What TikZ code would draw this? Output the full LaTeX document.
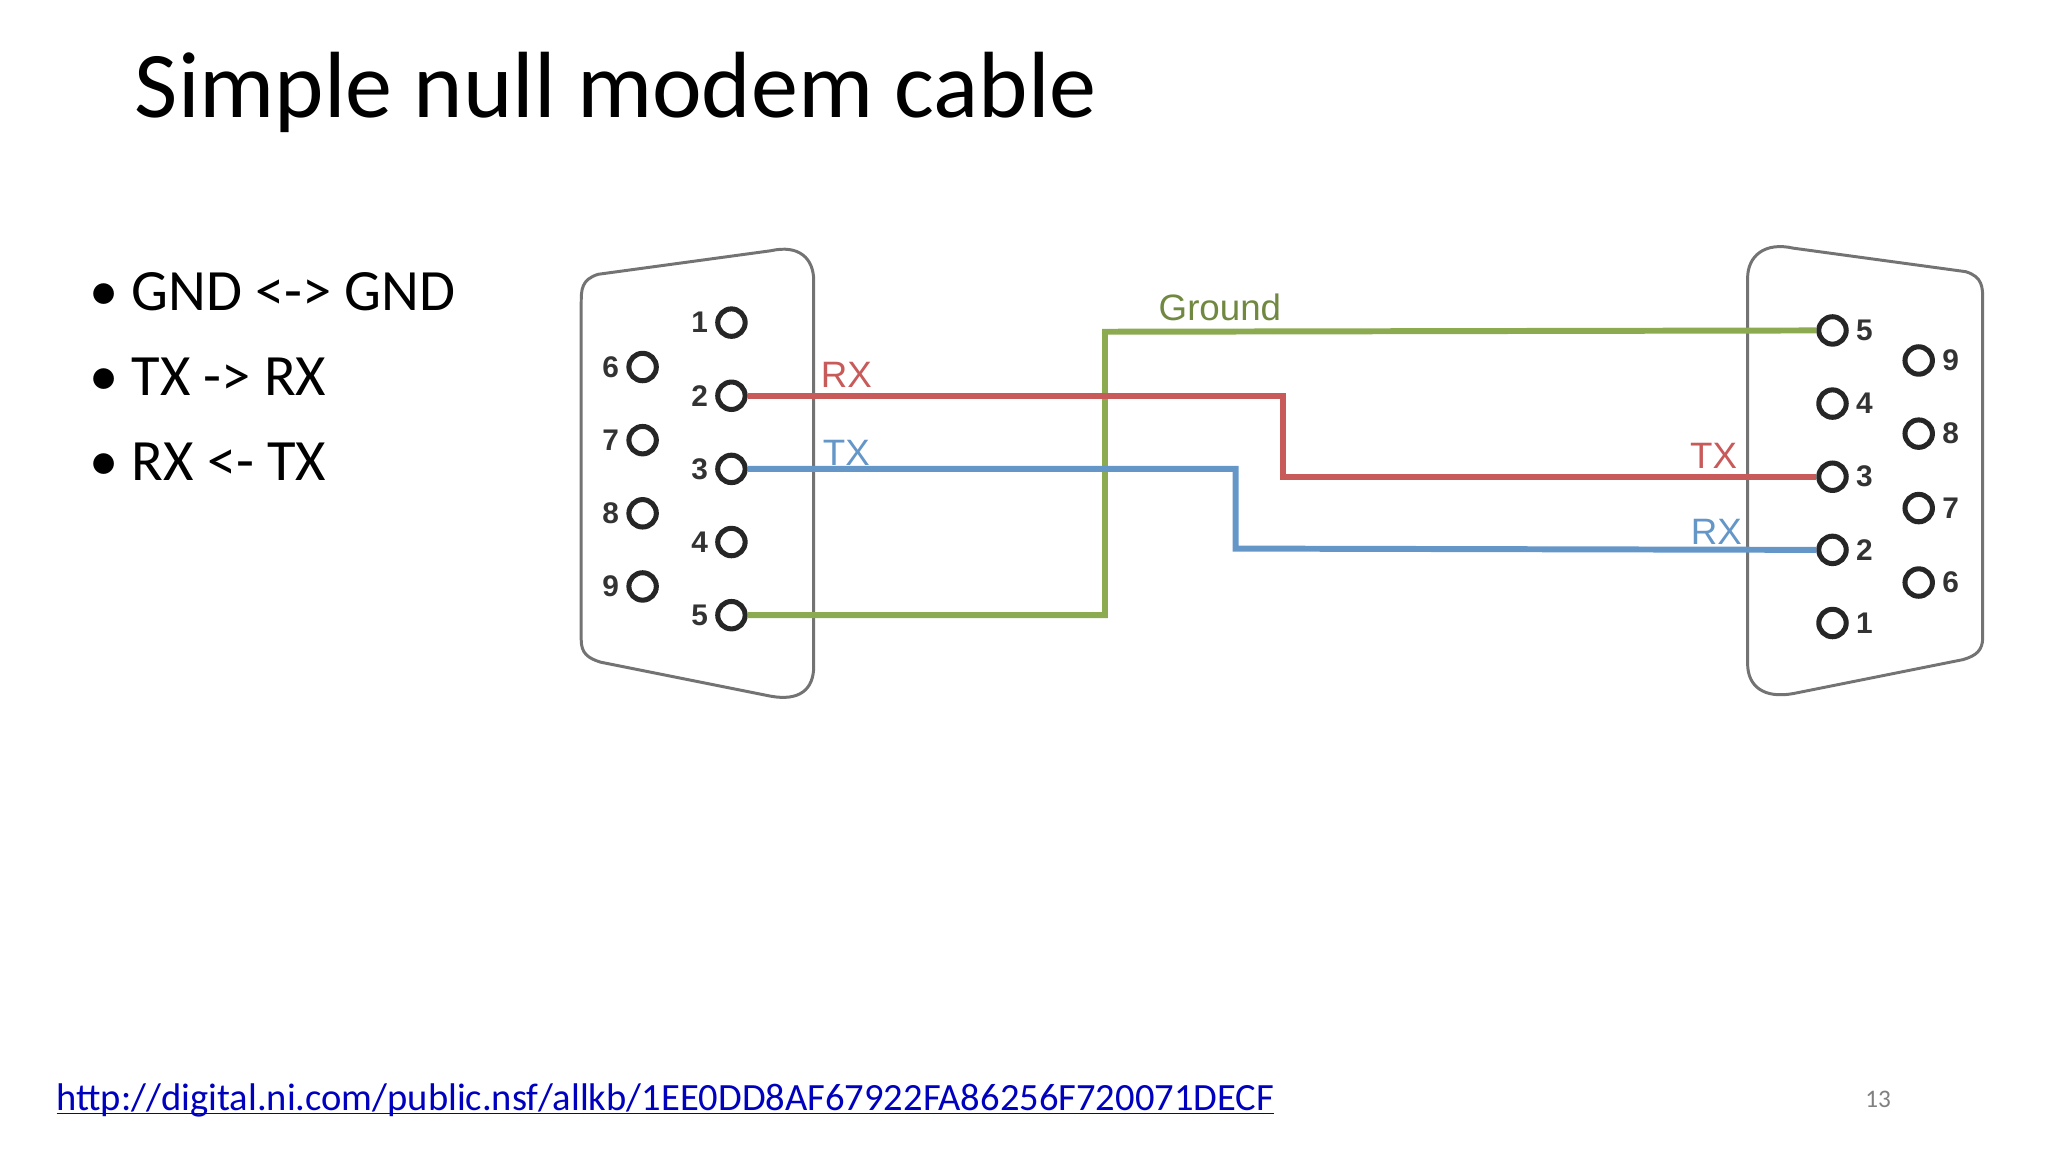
\documentclass[tikz,border=0pt]{standalone}
\usepackage{fontspec}
\setmainfont{Carlito}
\newfontfamily\arialf{Liberation Sans}
\begin{document}
\begin{tikzpicture}[x=0.02cm,y=-0.02cm,
 pin/.style={circle,draw=black!85,line width=2.2pt,minimum size=21*0.02cm,inner sep=0pt},
 pl/.style={font=\arialf\bfseries\fontsize{13}{13}\selectfont,text=black!80,inner sep=3pt},
 shell/.style={draw=black!55,line width=1.3pt},
 wire/.style={line width=2.6pt},
 wl/.style={font=\arialf\fontsize{16}{16}\selectfont,inner sep=0pt}]
\useasboundingbox (0,0) rectangle (1568,882);
\definecolor{gr}{RGB}{140,170,80}\definecolor{rd}{RGB}{200,90,90}\definecolor{bl}{RGB}{100,150,200}
\node[anchor=base west,font=\fontsize{41}{41}\selectfont,inner sep=0pt] (title) at (103,90) {Simple null modem cable};
\node[anchor=base west,font=\fontsize{25.5}{30}\selectfont,inner sep=0pt] (b1) at (68,238) {\textbullet\ GND <-> GND};
\node[anchor=base west,font=\fontsize{25.5}{30}\selectfont,inner sep=0pt] (b2) at (68,303) {\textbullet\ TX -> RX};
\node[anchor=base west,font=\fontsize{25.5}{30}\selectfont,inner sep=0pt] (b3) at (68,368) {\textbullet\ RX <- TX};
\node[anchor=base west,font=\fontsize{16.8}{17}\selectfont,inner sep=0pt,text=blue!75!black] (url) at (43,850) {\underbar{http://digital.ni.com/public.nsf/allkb/1EE0DD8AF67922FA86256F720071DECF}};
\node[font=\fontsize{11}{11}\selectfont,text=black!50] (pg) at (1438,842) {13};
% shells
\draw[shell] (458,210) .. controls (445,214) and (445,222) .. (445,232) -- (445,490)
  .. controls (445,500) and (450,504) .. (460,507) -- (590,533)
  .. controls (612,537) and (623,528) .. (623,510) -- (623,215)
  .. controls (623,198) and (612,187) .. (590,192) -- cycle;
\draw[shell] (1505,208) .. controls (1518,212) and (1518,220) .. (1518,230) -- (1518,488)
  .. controls (1518,498) and (1513,502) .. (1503,505) -- (1373,531)
  .. controls (1351,535) and (1338,526) .. (1338,508) -- (1338,213)
  .. controls (1338,196) and (1351,185) .. (1373,190) -- cycle;
% pins
\foreach \n/\y in {1/247,2/303,3/359,4/415,5/471}{\node[pin] (L\n) at (560,\y){};\node[pl,anchor=east] at (L\n.west){\n};}
\foreach \n/\y in {6/281,7/337,8/393,9/449}{\node[pin] (L\n) at (492,\y){};\node[pl,anchor=east] at (L\n.west){\n};}
\foreach \n/\y in {5/253,4/309,3/365,2/421,1/477}{\node[pin] (R\n) at (1403,\y){};\node[pl,anchor=west] at (R\n.east){\n};}
\foreach \n/\y in {9/276,8/332,7/389,6/446}{\node[pin] (R\n) at (1469,\y){};\node[pl,anchor=west] at (R\n.east){\n};}
% wires
\draw[wire,gr] (L5.east) -- (846,471) -- (846,254) -- (R5.west);
\draw[wire,rd] (L2.east) -- (982,303) -- (982,365) -- (R3.west);
\draw[wire,bl] (L3.east) -- (946,359) -- (946,420) -- (R2.west);
\node[wl,text=gr!80!black] (gl) at (934,235) {Ground};
\node[wl,text=rd] (rx1) at (648,287) {RX};
\node[wl,text=bl] (tx1) at (648,347) {TX};
\node[wl,text=rd] (tx2) at (1312,349) {TX};
\node[wl,text=bl] (rx2) at (1314,407) {RX};
\end{tikzpicture}
\end{document}
